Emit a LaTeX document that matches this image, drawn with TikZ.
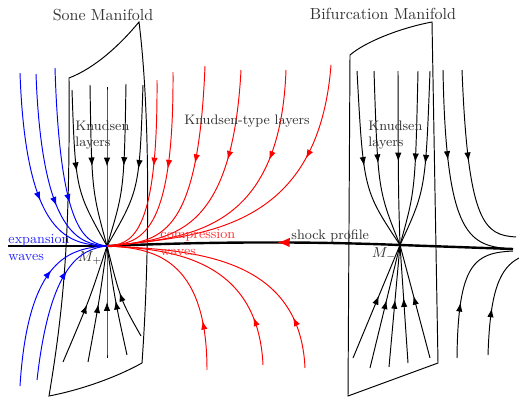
\documentclass[tikz,border=0pt]{standalone}
\usepackage{amsmath}
\usepackage{tikz}
\usepackage{xcolor}
\usetikzlibrary{arrows.meta, decorations.markings}

\begin{document}
\begin{tikzpicture}[
  x=0.625pt, y=-0.625pt,
  line width=0.6pt,
  lbl/.style={font=\fontsize{8.6}{10.6}\selectfont, text=black!80, inner sep=0pt},
  title/.style={font=\normalsize, text=black!80, inner sep=0pt},
  flow/.style={postaction={decorate}, decoration={markings,
    mark=at position #1 with {\arrow{Latex[length=5.5pt, width=4pt]}}}},
  flow/.default=0.5,
  shock/.style={line width=1.5pt},
]
\useasboundingbox (0,0) rectangle (519,398);

% Gleichgewichtspunkte
\coordinate (Mp) at (107,246);
\coordinate (Mm) at (400,245);
\coordinate (west) at (8,246);
\coordinate (east) at (513,249);

% Mannigfaltigkeiten
\draw (69,78) .. controls (95,68) and (120,45) .. (139,22)
  .. controls (150,110) and (150,250) .. (142,363)
  .. controls (115,378) and (80,390) .. (49,396)
  .. controls (65,300) and (70,230) .. cycle;
\draw (350,55) .. controls (365,42) and (400,28) .. (432,22)
  -- (438,363) -- (348,396) -- cycle;

% Schockprofil
\draw[shock] (west) -- (Mp);
\draw[shock] (east) -- (Mm);
\draw[shock, postaction={decorate}, decoration={markings,
  mark=at position 0.42 with {\arrow[red]{Latex[length=8pt, width=6pt]}}}]
  (Mm) .. controls (300,241) and (200,242) .. (Mp);

% Knudsen-Schichten bei M+
\foreach \sx/\sy in {72/90, 90/85, 107/87, 126/84, 143/85}
  \draw[flow=0.5] (\sx,\sy) .. controls ({\sx+0.1*(107-\sx)},190) .. (Mp);
\foreach \sx/\sy in {63/362, 88/362, 107/358, 127/355, 141/336}
  \draw[flow=0.5] (\sx,\sy) .. controls ({\sx+0.6*(107-\sx)},300) .. (Mp);

% Knudsen-Schichten bei M-
\foreach \sx in {357, 374, 398, 418, 430}
  \draw[flow=0.52] (\sx,71) .. controls ({\sx+0.15*(400-\sx)},190) .. (Mm);
\foreach \sx/\sy in {353/358, 370/368, 389/367, 408/363, 430/358}
  \draw[flow=0.55] (\sx,\sy) -- (Mm);

% Expansionswellen
\foreach \a/\b/\c/\p in {{20,73}/{26,240}/{70,244}/0.6, {36,74}/{42,236}/{80,244}/0.66,
    {55,68}/{60,232}/{85,243}/0.69, {20,386}/{28,258}/{70,248}/0.66,
    {37,380}/{50,265}/{80,249}/0.7}
  \draw[blue, flow=\p] (\a) .. controls (\b) and (\c) .. (Mp);

% Kompressionswellen
\foreach \a/\b/\c/\p in {{157,80}/{158,240}/{130,244}/0.46, {173,72}/{174,238}/{140,243}/0.47,
    {205,66}/{198,240}/{160,242}/0.42, {241,70}/{232,238}/{170,240}/0.36,
    {286,70}/{280,235}/{185,238}/0.32, {331,65}/{318,232}/{200,236}/0.3,
    {207,370}/{207,255}/{150,248}/0.27, {263,365}/{258,258}/{170,249}/0.22,
    {305,368}/{300,255}/{190,250}/0.2}
  \draw[red, flow=\p] (\a) .. controls (\b) and (\c) .. (Mp);

% rechts von M-
\draw[flow=0.42] (443,70) .. controls (446,240) and (470,246) .. (east);
\draw[flow=0.48] (462,70) .. controls (468,225) and (485,235) .. (516,237);
\draw[flow=0.4] (457,358) .. controls (458,262) and (475,253) .. (513,251);
\draw[flow=0.44] (488,355) .. controls (490,290) and (500,268) .. (519,258);

% Beschriftungen
\node[title] (sone) at (103,15) {Sone Manifold};
\node[title] (bif) at (383,14) {Bifurcation Manifold};
\node[lbl, align=left, anchor=north west] (knp) at (75,120) {Knudsen\\layers};
\node[lbl, align=left, anchor=north west] (knm) at (368,120) {Knudsen\\layers};
\node[lbl] (kntype) at (247,121) {Knudsen-type layers};
\node[lbl, align=left, anchor=west, text=blue!85] (exp) at (8,248) {expansion\\waves};
\node[lbl, align=left, anchor=west, text=red!80] (comp) at (160,243) {compression\\waves};
\node[lbl, anchor=south west] (shp) at (291,243) {shock profile};
\node[lbl] (lmp) at (90,258) {$M_+$};
\node[lbl] (lmm) at (384,254) {$M_-$};

\end{tikzpicture}
\end{document}
